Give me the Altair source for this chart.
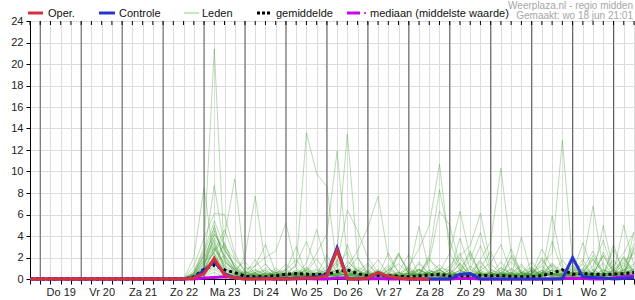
import altair as alt
import pandas as pd

# ---- axis categories -------------------------------------------------------
days = ["Do 19", "Vr 20", "Za 21", "Zo 22", "Ma 23", "Di 24", "Wo 25",
        "Do 26", "Vr 27", "Za 28", "Zo 29", "Ma 30", "Di 1", "Wo 2"]
t_start = -6      # hours after Do 19 00:00 (wo 18 jun 18:00)
t_end = 348       # Do 3 12:00
step = 6          # 6-hourly values
y_ticks = list(range(0, 25, 2))

# ---- series (mm per 6 h) ---------------------------------------------------
oper = [0, 0, 0, 0, 0, 0, 0, 0, 0, 0, 0, 0, 0, 0, 0, 0,
        0.1, 0.5, 1.9, 0.4, 0.1,
        0.0, 0.0, 0.05, 0.0,
        0.0, 0.05, 0.1, 0.1,
        0.3, 2.7, 0.0, 0.0,
        0.1, 0.6, 0.25, 0.1,
        0.0, 0.0, 0.0]

controle = [0, 0, 0, 0, 0, 0, 0, 0, 0, 0, 0, 0, 0, 0, 0, 0,
            0.1, 0.8, 1.6, 0.5, 0.1,
            0.0, 0.05, 0.1, 0.0,
            0.0, 0.1, 0.1, 0.2,
            0.4, 2.9, 0.0, 0.0,
            0.1, 0.6, 0.2, 0.1,
            0.0, 0.0, 0.0, 0.0,
            0.0, 0.45, 0.5, 0.0,
            0.0, 0.0, 0.0, 0.0,
            0.0, 0.0, 0.0, 0.0,
            2.0, 0.2, 0.15, 0.1,
            0.0, 0.05, 0.1]

gemiddelde = [0, 0, 0, 0, 0, 0, 0, 0, 0, 0, 0, 0, 0, 0, 0, 0,
              0.2, 0.9, 1.3, 0.85, 0.6,
              0.25, 0.2, 0.2, 0.3,
              0.45, 0.5, 0.45, 0.4,
              0.45, 0.7, 0.85, 0.5,
              0.3, 0.35, 0.3, 0.25,
              0.2, 0.3, 0.35, 0.45,
              0.25, 0.3, 0.3, 0.35,
              0.3, 0.3, 0.25, 0.2,
              0.2, 0.3, 0.55, 0.85,
              0.45, 0.5, 0.45, 0.4,
              0.45, 0.5, 0.6]

mediaan = [0, 0, 0, 0, 0, 0, 0, 0, 0, 0, 0, 0, 0, 0, 0, 0,
           0.0, 0.1, 0.15, 0.2, 0.15,
           0.05, 0.0, 0.0, 0.0,
           0.0, 0.0, 0.05, 0.0,
           0.0, 0.1, 0.05, 0.0,
           0.0, 0.05, 0.0, 0.0,
           0.0, 0.0, 0.0, 0.0,
           0.0, 0.05, 0.05, 0.0,
           0.0, 0.0, 0.0, 0.0,
           0.0, 0.0, 0.0, 0.05,
           0.05, 0.05, 0.0, 0.0,
           0.1, 0.2, 0.3]

# ensemble members, starting at Zo 22 12:00 (all zero before)
leden_start = 15
m01 = [0, 0.5, 3.0, 21.4, 1.8, 0.6, 0.2, 0.4, 0.1, 0.0, 0.3, 0.8, 0.2, 0.1,
       0.0, 1.2, 2.5, 0.4, 0.1, 0.6, 0.2, 0.0, 0.0, 0.5, 1.8, 0.9, 0.2, 1.5,
       0.3, 0.8, 0.1, 0.0, 2.2, 0.5, 0.1, 0.4, 1.2, 0.3, 0.6, 1.8, 0.2, 0.9,
       0.4, 2.1, 0.7]
m02 = [0, 2.0, 8.5, 1.5, 0.4, 0.2, 0.8, 0.3, 0.0, 0.1, 0.5, 0.2, 1.0, 0.3,
       0.0, 0.4, 0.8, 2.0, 0.6, 0.2, 0.0, 0.3, 1.1, 0.4, 0.2, 0.1, 0.3, 0.8,
       2.6, 0.4, 0.1, 0.3, 0.5, 1.4, 0.2, 0.6, 0.2, 0.1, 0.3, 1.0, 0.4, 0.2,
       0.8, 1.6, 2.4]
m03 = [0, 0.6, 2.2, 8.7, 2.8, 1.0, 0.3, 0.6, 0.2, 0.4, 1.4, 0.5, 0.2, 0.6,
       0.3, 1.8, 0.5, 0.2, 0.0, 0.4, 1.3, 0.3, 0.2, 0.8, 0.3, 0.5, 1.2, 2.4,
       0.4, 0.2, 0.6, 0.3, 0.9, 0.2, 0.4, 1.8, 0.5, 0.3, 1.2, 0.2, 0.6, 1.5,
       0.3, 0.8, 1.2]
m04 = [0, 0.2, 1.0, 2.5, 4.0, 9.3, 1.2, 0.4, 0.2, 0.6, 0.2, 0.8, 0.3, 0.1,
       0.4, 0.2, 1.6, 0.8, 0.2, 0.1, 0.5, 2.2, 0.8, 0.3, 0.6, 0.2, 0.1, 0.5,
       0.9, 3.1, 0.6, 0.2, 0.3, 0.1, 0.9, 0.4, 0.2, 1.8, 0.5, 3.4, 0.7, 0.2,
       0.1, 0.6, 0.4]
m05 = [0, 0.3, 1.5, 3.2, 1.0, 0.5, 2.1, 7.7, 1.4, 0.3, 0.2, 0.5, 1.1, 0.4,
       0.6, 2.3, 0.8, 0.3, 0.1, 0.3, 0.2, 0.6, 0.2, 1.4, 0.5, 0.3, 0.9, 0.2,
       0.4, 1.7, 0.3, 0.8, 0.2, 0.5, 1.6, 0.4, 0.3, 0.2, 0.4, 0.9, 2.6, 0.5,
       0.2, 1.1, 3.3]
m06 = [0, 1.2, 3.8, 6.1, 6.0, 2.4, 0.6, 0.3, 0.8, 0.2, 0.1, 0.2, 0.6, 1.9,
       0.5, 0.3, 0.2, 0.7, 1.5, 0.4, 0.1, 0.2, 0.6, 0.3, 2.0, 0.4, 0.2, 0.5,
       0.3, 1.0, 2.6, 0.4, 0.2, 0.3, 0.1, 0.6, 1.4, 0.5, 0.2, 0.3, 0.8, 0.4,
       2.8, 0.6, 0.3]
m07 = [0, 0.1, 0.6, 2.8, 1.5, 0.9, 0.4, 1.2, 2.0, 2.6, 5.2, 1.0, 0.3, 0.2,
       0.7, 0.4, 1.2, 0.5, 0.3, 0.9, 0.2, 0.1, 0.4, 0.2, 0.6, 1.3, 0.5, 0.2,
       0.3, 0.6, 0.2, 1.1, 0.4, 0.3, 0.7, 0.3, 5.9, 1.2, 0.4, 0.6, 0.2, 0.3,
       0.5, 1.9, 0.6]
m08 = [0, 0.4, 1.8, 4.5, 2.0, 0.8, 0.3, 0.5, 0.2, 0.4, 0.6, 1.2, 13.6, 9.8,
       8.6, 1.0, 0.5, 0.3, 0.2, 0.6, 0.3, 0.1, 0.3, 0.9, 0.4, 0.2, 0.5, 1.4,
       0.3, 0.6, 0.2, 0.3, 1.0, 0.4, 0.2, 0.5, 0.8, 0.3, 1.3, 0.4, 0.2, 0.6,
       0.3, 0.9, 1.4]
m09 = [0, 0.2, 0.8, 1.6, 0.5, 0.3, 0.2, 0.6, 1.4, 0.3, 0.4, 0.2, 0.8, 2.4,
       4.2, 11.9, 1.8, 0.5, 0.3, 0.8, 0.2, 0.4, 1.0, 0.3, 0.6, 0.2, 0.4, 2.0,
       0.5, 0.3, 0.6, 0.2, 0.4, 1.2, 0.3, 0.8, 0.2, 0.5, 0.9, 0.3, 0.4, 2.2,
       0.6, 0.3, 0.8]
m10 = [0, 0.0, 0.5, 2.2, 0.8, 0.4, 0.1, 0.3, 0.2, 1.0, 0.4, 0.6, 0.3, 0.5,
       1.2, 2.6, 13.5, 2.0, 0.4, 0.2, 0.9, 0.3, 0.2, 1.6, 0.4, 0.8, 0.3, 0.6,
       2.4, 0.5, 0.2, 0.4, 0.3, 0.6, 1.1, 0.3, 0.5, 0.2, 0.4, 0.7, 1.9, 0.4,
       0.3, 0.5, 1.0]
m11 = [0, 0.3, 1.2, 5.0, 1.8, 0.6, 0.3, 0.2, 0.5, 0.3, 0.8, 1.8, 0.6, 0.4,
       0.9, 1.5, 6.4, 4.5, 2.0, 0.6, 0.3, 0.2, 0.4, 0.2, 0.8, 0.3, 0.6, 0.3,
       1.2, 0.4, 0.3, 0.5, 0.2, 3.9, 0.4, 0.6, 0.3, 0.9, 0.2, 0.4, 0.3, 0.6,
       1.8, 0.4, 0.3]
m12 = [0, 0.1, 0.9, 1.4, 2.2, 0.8, 0.4, 0.2, 0.6, 0.3, 0.2, 0.5, 0.8, 0.3,
       0.6, 0.4, 1.2, 2.6, 4.8, 7.7, 2.0, 0.6, 0.3, 0.9, 0.4, 0.2, 0.5, 0.3,
       0.2, 0.8, 0.4, 1.6, 0.3, 0.2, 0.6, 0.4, 1.3, 0.5, 0.3, 0.2, 0.5, 0.4,
       0.8, 2.0, 0.5]
m13 = [0, 0.5, 2.0, 3.6, 1.2, 0.5, 0.2, 0.4, 1.0, 0.6, 0.3, 1.4, 3.5, 1.1,
       0.4, 0.2, 0.6, 0.3, 0.8, 0.4, 0.2, 2.4, 0.5, 0.3, 0.6, 0.2, 0.3, 0.8,
       0.4, 1.5, 0.6, 0.2, 0.4, 0.3, 0.5, 1.2, 0.3, 0.2, 0.7, 0.4, 0.9, 0.3,
       0.4, 1.5, 0.6]
m14 = [0, 0.2, 1.1, 4.2, 2.6, 1.4, 0.5, 1.8, 0.4, 0.2, 0.6, 0.3, 1.5, 4.6,
       1.2, 0.5, 0.3, 0.8, 0.2, 0.4, 1.1, 0.3, 0.6, 4.9, 0.8, 0.4, 0.2, 0.5,
       0.3, 1.2, 0.4, 0.3, 2.0, 0.5, 0.2, 0.6, 0.4, 0.3, 1.0, 0.5, 0.3, 0.6,
       0.4, 0.8, 0.5]
m15 = [0, 0.0, 0.4, 1.8, 0.6, 0.3, 0.2, 0.5, 0.2, 0.4, 0.3, 0.6, 0.2, 0.5,
       0.8, 0.3, 1.0, 0.4, 0.2, 0.6, 0.3, 0.5, 1.2, 2.8, 5.0, 10.7, 2.4, 0.8,
       0.4, 0.3, 0.6, 0.2, 0.5, 0.3, 0.8, 0.4, 1.5, 0.6, 0.3, 0.8, 0.4, 0.2,
       0.5, 1.3, 0.4]
m16 = [0, 0.3, 1.4, 2.9, 0.9, 0.4, 0.6, 0.3, 0.2, 0.8, 0.4, 0.2, 0.3, 0.6,
       0.2, 0.9, 0.4, 0.2, 0.5, 0.3, 0.8, 1.4, 0.6, 0.4, 2.2, 8.3, 3.6, 0.9,
       0.4, 0.6, 0.3, 1.0, 0.5, 0.2, 0.4, 0.8, 0.3, 0.6, 0.2, 0.5, 1.8, 0.6,
       0.3, 0.4, 2.6]
m17 = [0, 0.1, 0.7, 1.2, 3.4, 1.0, 0.4, 0.2, 0.6, 0.3, 0.2, 0.4, 0.9, 0.2,
       0.3, 0.5, 0.2, 1.1, 0.6, 0.3, 0.4, 0.2, 0.8, 0.3, 1.6, 6.3, 5.0, 1.2,
       0.5, 0.3, 0.2, 0.6, 0.4, 0.8, 0.3, 0.2, 0.5, 0.4, 0.6, 1.4, 0.3, 5.0,
       0.8, 0.4, 0.6]
m18 = [0, 0.4, 1.6, 2.4, 0.7, 0.3, 0.2, 0.4, 0.3, 0.6, 0.9, 0.3, 0.2, 0.4,
       0.5, 0.2, 0.7, 0.3, 1.3, 0.4, 0.2, 0.3, 0.6, 0.9, 0.4, 0.7, 2.4, 6.3,
       2.0, 0.6, 0.3, 0.5, 0.2, 0.4, 1.0, 0.3, 0.6, 0.2, 0.4, 1.5, 6.8, 0.9,
       0.3, 0.6, 0.9]
m19 = [0, 0.2, 0.9, 3.0, 1.3, 0.6, 0.3, 0.8, 0.4, 0.2, 0.5, 0.3, 0.6, 0.9,
       0.4, 0.6, 0.3, 0.2, 0.7, 0.3, 0.5, 0.4, 0.2, 0.6, 0.3, 1.0, 0.8, 2.2,
       3.1, 6.1, 1.4, 0.5, 0.3, 0.6, 0.4, 0.2, 0.9, 0.3, 0.5, 0.3, 0.4, 0.8,
       0.6, 5.0, 1.2]
m20 = [0, 0.6, 2.4, 4.8, 1.6, 0.8, 0.3, 0.2, 0.5, 0.4, 0.2, 0.5, 0.3, 0.6,
       0.4, 0.8, 0.5, 0.3, 0.2, 0.4, 0.6, 0.3, 0.5, 0.2, 0.4, 0.9, 0.3, 0.6,
       1.8, 4.3, 0.9, 0.4, 0.6, 0.2, 0.3, 0.8, 0.4, 0.5, 0.2, 0.6, 0.3, 0.4,
       0.9, 0.3, 4.4]
m21 = [0, 0.1, 0.6, 1.9, 0.5, 0.2, 0.4, 0.3, 0.2, 0.5, 0.3, 0.2, 0.4, 0.3,
       0.6, 0.3, 0.5, 0.9, 0.4, 0.2, 0.3, 0.6, 0.2, 0.5, 0.3, 0.4, 0.8, 0.3,
       0.6, 1.8, 3.5, 10.3, 2.4, 0.6, 0.3, 0.5, 0.8, 0.4, 0.6, 0.3, 0.5, 2.2,
       0.6, 0.4, 0.3]
m22 = [0, 0.3, 1.0, 2.0, 3.2, 1.1, 0.5, 0.9, 0.3, 0.2, 0.4, 0.6, 0.2, 0.5,
       0.3, 1.4, 0.6, 0.3, 0.5, 0.2, 0.4, 0.3, 0.2, 0.8, 0.4, 0.3, 0.6, 0.4,
       0.2, 0.8, 1.5, 3.2, 0.6, 0.3, 0.5, 2.8, 1.0, 0.4, 0.3, 0.6, 0.4, 2.5,
       0.8, 0.5, 3.0]
m23 = [0, 0.0, 0.5, 1.1, 0.4, 0.2, 0.3, 0.2, 0.4, 0.3, 0.2, 0.6, 0.3, 0.2,
       0.4, 0.3, 0.2, 0.5, 0.3, 0.4, 0.2, 0.3, 0.5, 0.2, 0.4, 0.6, 0.3, 0.5,
       0.2, 0.4, 0.3, 0.6, 0.4, 0.2, 0.5, 1.4, 2.4, 12.9, 1.6, 0.5, 0.3, 0.4,
       0.6, 0.3, 0.5]
m24 = [0, 0.2, 1.3, 3.8, 2.2, 0.9, 1.6, 0.5, 0.3, 0.6, 0.4, 0.2, 0.5, 0.3,
       0.2, 0.6, 0.3, 0.8, 0.4, 0.3, 2.4, 0.6, 0.3, 0.5, 0.4, 0.2, 0.6, 3.8,
       0.9, 0.4, 0.3, 0.5, 2.8, 0.6, 0.4, 0.3, 0.6, 0.2, 0.5, 0.8, 0.3, 0.6,
       1.2, 2.4, 4.4]
m25 = [0, 0.4, 1.8, 3.4, 1.0, 0.4, 0.2, 0.6, 0.8, 0.3, 0.5, 0.3, 0.6, 0.2,
       0.3, 0.5, 0.9, 0.4, 0.6, 0.3, 0.8, 2.4, 0.5, 0.3, 0.6, 0.8, 0.4, 0.3,
       0.5, 0.2, 0.6, 0.4, 1.6, 0.5, 0.3, 2.0, 0.4, 0.3, 0.6, 0.4, 1.2, 3.6,
       0.5, 0.3, 0.8]
m26 = [0, 0.8, 2.6, 5.4, 3.0, 1.8, 0.9, 1.2, 3.2, 0.6, 0.3, 0.5, 0.2, 0.4,
       2.2, 0.6, 0.3, 0.5, 0.2, 0.4, 0.3, 0.6, 2.3, 0.4, 0.5, 0.3, 0.2, 0.4,
       0.6, 0.3, 0.5, 0.2, 0.3, 0.6, 0.4, 0.3, 3.5, 0.8, 0.3, 0.6, 0.4, 0.3,
       3.2, 0.5, 0.9]
m27 = [0, 0.5, 2.2, 4.1, 2.8, 1.2, 0.4, 0.3, 0.2, 0.5, 0.8, 3.0, 0.4, 0.3,
       0.6, 0.2, 3.2, 0.5, 0.3, 0.6, 0.2, 0.4, 0.3, 0.2, 0.8, 0.5, 0.4, 0.3,
       0.6, 0.2, 0.8, 0.5, 0.3, 0.4, 0.2, 0.6, 0.4, 1.0, 0.3, 0.5, 2.2, 0.6,
       0.4, 0.3, 2.9]
m28 = [0, 0.2, 1.0, 2.6, 4.6, 2.0, 0.7, 0.3, 0.5, 0.2, 0.4, 0.6, 0.3, 0.8,
       0.3, 0.5, 0.4, 0.2, 0.6, 1.8, 0.4, 0.3, 0.5, 0.3, 0.2, 0.6, 0.4, 0.8,
       0.3, 0.5, 0.2, 0.4, 0.6, 0.3, 0.8, 0.2, 0.5, 0.4, 1.6, 0.3, 0.6, 0.4,
       0.3, 0.9, 0.5]
m29 = [0, 0.1, 0.4, 0.9, 0.3, 0.2, 0.1, 0.2, 0.3, 0.1, 0.2, 0.4, 0.2, 0.3,
       0.2, 0.3, 0.2, 0.4, 0.3, 0.2, 0.4, 0.2, 0.3, 0.4, 0.2, 0.3, 0.2, 0.5,
       0.3, 0.2, 0.4, 0.2, 0.3, 0.5, 0.2, 0.3, 0.4, 0.2, 0.3, 0.2, 0.5, 0.3,
       0.2, 0.4, 0.3]
m30 = [0, 0.0, 0.3, 0.6, 0.2, 0.1, 0.2, 0.1, 0.2, 0.3, 0.1, 0.2, 0.1, 0.3,
       0.2, 0.1, 0.3, 0.2, 0.1, 0.2, 0.1, 0.3, 0.2, 0.1, 0.3, 0.2, 0.1, 0.2,
       0.3, 0.1, 0.2, 0.3, 0.1, 0.2, 0.3, 0.1, 0.2, 0.4, 0.1, 0.2, 0.3, 0.2,
       0.3, 0.1, 0.2]

leden = [m01, m02, m03, m04, m05, m06, m07, m08, m09, m10, m11, m12, m13, m14,
         m15, m16, m17, m18, m19, m20, m21, m22, m23, m24, m25, m26, m27, m28,
         m29, m30]

# ---- colours / text --------------------------------------------------------
RED = "#d4313a"
BLUE = "#2a33cc"
GREEN = "#3f9b2e"
GREEN_LEG = "#b8dcae"
MAGENTA = "#c800f0"
FONT = "Liberation Sans"


def frame(vals, start=0, name=""):
    return pd.DataFrame({
        "t": [t_start + step * (start + k) for k in range(len(vals))],
        "v": vals,
        "s": name,
    })


leden_df = pd.concat([frame(m, leden_start, f"lid{j+1}") for j, m in enumerate(leden)],
                     ignore_index=True)
oper_df = frame(oper, 0, "oper")
ctrl_df = frame(controle, 0, "controle")
mean_df = frame(gemiddelde, 0, "gem")
med_df = frame(mediaan, 0, "med")

tick_hours = list(range(t_start, t_end + 1, step))
day_df = pd.DataFrame({"t": list(range(0, t_end + 1, 24))})
tick_df = pd.DataFrame({"t": tick_hours})

day_js = "[" + ",".join(f"'{d}'" for d in days) + "]"
label_expr = (f"(datum.value % 24 == 12 && datum.value < {24 * len(days)}) ? "
              f"{day_js}[floor(datum.value / 24)] : ''")

xscale = alt.Scale(domain=[t_start, t_end], nice=False, zero=False)
yscale = alt.Scale(domain=[0, 24], nice=False, zero=True)

x_axis = alt.Axis(values=tick_hours, grid=True, gridColor="#dcdcdc", gridWidth=1,
                  tickColor="black", tickSize=5, domainColor="black",
                  labelExpr=label_expr, labelFont=FONT, labelFontSize=11,
                  labelColor="#222222", labelPadding=2, labelOverlap=False,
                  labelFlush=False, title=None)
y_axis = alt.Axis(values=y_ticks, grid=True, gridColor="#dcdcdc", gridWidth=1,
                  tickColor="black", tickSize=4, domainColor="black",
                  labelFont=FONT, labelFontSize=11, labelColor="#222222",
                  labelPadding=3, title=None)

X = alt.X("t:Q", scale=xscale, axis=x_axis)
Y = alt.Y("v:Q", scale=yscale, axis=y_axis)

members = alt.Chart(leden_df).mark_line(
    stroke=GREEN, strokeWidth=1, opacity=0.36, clip=True
).encode(x=X, y=Y, detail="s:N", order="t:Q")

day_rules = alt.Chart(day_df).mark_rule(color="#5c5c5c", strokeWidth=1).encode(x=X)
top_ticks = alt.Chart(tick_df).mark_rule(color="black", strokeWidth=1).encode(
    x=X, y=alt.value(0), y2=alt.value(4))

median_line = alt.Chart(med_df).mark_line(stroke=MAGENTA, strokeWidth=3).encode(x=X, y=Y)
mean_line = alt.Chart(mean_df).mark_line(
    stroke="black", strokeWidth=3, strokeDash=[3, 3], strokeCap="butt").encode(x=X, y=Y)
ctrl_line = alt.Chart(ctrl_df).mark_line(stroke=BLUE, strokeWidth=3).encode(x=X, y=Y)
oper_line = alt.Chart(oper_df).mark_line(stroke=RED, strokeWidth=3).encode(x=X, y=Y)

# ---- header legend ---------------------------------------------------------
one = pd.DataFrame({"k": [0]})
legend_items = [
    ("Oper.", -2, 13, 18, dict(color=RED, strokeWidth=3)),
    ("Controle", 69, 85, 89, dict(color=BLUE, strokeWidth=3)),
    ("Leden", 154, 169, 172, dict(color=GREEN_LEG, strokeWidth=1.5)),
    ("gemiddelde", 227, 242, 246, dict(color="black", strokeWidth=3, strokeDash=[3, 2])),
    ("mediaan (middelste waarde)", 317, 330, 340, dict(color=MAGENTA, strokeWidth=3)),
]
legend_layers = []
for label, x0, x1, xt, style in legend_items:
    legend_layers.append(alt.Chart(one).mark_rule(**style).encode(
        x=alt.value(x0), x2=alt.value(x1), y=alt.value(-8)))
    legend_layers.append(alt.Chart(one).mark_text(
        align="left", baseline="alphabetic", font=FONT, fontSize=11, color="#111111"
    ).encode(x=alt.value(xt), y=alt.value(-4), text=alt.value(label)))
legend_layers.append(alt.Chart(one).mark_rule(color=MAGENTA, strokeWidth=1.5).encode(
    x=alt.value(334), x2=alt.value(336), y=alt.value(-8)))

credit1 = alt.Chart(one).mark_text(
    align="right", baseline="alphabetic", font=FONT, fontSize=10, color="#a6a6a6"
).encode(x=alt.value(603), y=alt.value(-12), text=alt.value("Weerplaza.nl - regio midden"))
credit2 = alt.Chart(one).mark_text(
    align="right", baseline="alphabetic", font=FONT, fontSize=10, color="#a6a6a6"
).encode(x=alt.value(603), y=alt.value(-2.5), text=alt.value("Gemaakt: wo 18 jun 21:01"))

chart = alt.layer(
    members, day_rules, top_ticks, median_line, mean_line, ctrl_line, oper_line,
    *legend_layers, credit1, credit2
).properties(
    width=604, height=258,
    autosize=alt.AutoSizeParams(type="none"),
    padding={"left": 30, "top": 21, "right": 1, "bottom": 21},
    background="white",
).configure_view(stroke="black", strokeWidth=1)

chart.save("out.html", embed_options={"renderer": "svg", "actions": False})
